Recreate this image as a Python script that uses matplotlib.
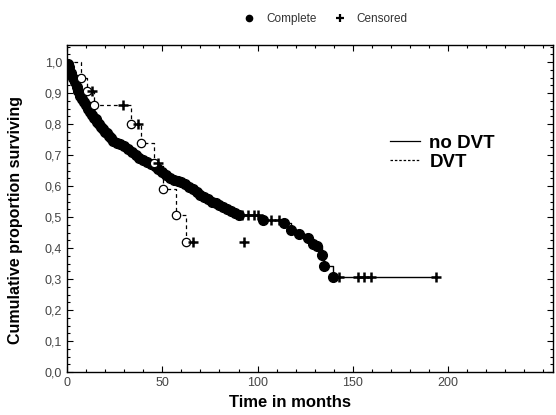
import numpy as np
import matplotlib
matplotlib.use("Agg")
import matplotlib.pyplot as plt
from matplotlib.lines import Line2D
from matplotlib.ticker import MultipleLocator

# no DVT group: event times (months) and survival after each event
nodvt_t = [0.5, 1, 2, 3, 4, 5, 6, 7, 8, 9, 10, 11, 12, 13, 14, 15, 16, 17, 18, 19,
           20, 21, 22, 23, 24, 26, 28, 30, 32, 34, 36, 38, 40, 42, 44, 46, 48, 50,
           52, 54, 56, 58, 60, 62, 64, 66, 68, 70, 72, 74, 76, 78, 80, 82, 84, 86,
           88, 90, 103, 114, 117.5, 121.5, 126.5, 129, 131, 134, 135, 139.5]
nodvt_s = [0.995, 0.985, 0.965, 0.95, 0.935, 0.92, 0.905, 0.89, 0.88, 0.87, 0.86,
           0.85, 0.84, 0.83, 0.82, 0.815, 0.805, 0.80, 0.79, 0.785, 0.775, 0.77,
           0.76, 0.755, 0.745, 0.74, 0.735, 0.73, 0.72, 0.71, 0.70, 0.69, 0.685,
           0.678, 0.67, 0.665, 0.655, 0.645, 0.635, 0.625, 0.62, 0.617, 0.612,
           0.605, 0.598, 0.59, 0.58, 0.572, 0.565, 0.558, 0.55, 0.545, 0.538,
           0.532, 0.525, 0.518, 0.513, 0.508, 0.49, 0.48, 0.458, 0.445, 0.432,
           0.412, 0.405, 0.378, 0.342, 0.306]
nodvt_cens_t = [92, 95, 98, 100, 107, 111, 142.5, 152.5, 156, 159.5, 193.5]
nodvt_cens_s = [0.508, 0.508, 0.508, 0.508, 0.49, 0.49, 0.306, 0.306, 0.306, 0.306, 0.306]

# DVT group
dvt_t = [7.3, 10.5, 14.2, 33.5, 38.8, 45.5, 50.4, 57, 62.5]
dvt_s = [0.95, 0.905, 0.86, 0.80, 0.74, 0.675, 0.59, 0.505, 0.42]
dvt_cens_t = [13, 29.4, 37, 48, 66, 93]
dvt_cens_s = [0.905, 0.86, 0.80, 0.675, 0.42, 0.42]

xticks = [0, 50, 100, 150, 200]
yticks = [0.0, 0.1, 0.2, 0.3, 0.4, 0.5, 0.6, 0.7, 0.8, 0.9, 1.0]
ytick_labels = ["0,0", "0,1", "0,2", "0,3", "0,4", "0,5", "0,6", "0,7", "0,8", "0,9", "1,0"]

plt.rcParams.update({"font.family": ["Liberation Sans", "DejaVu Sans"]})

fig = plt.figure(figsize=(5.56, 4.15), dpi=100)
ax = fig.add_axes([0.1205, 0.1036, 0.874, 0.788])

# no DVT: solid step line with filled dots
ax.step([0] + nodvt_t + [nodvt_cens_t[-1]], [1.0] + nodvt_s + [nodvt_s[-1]],
        where="post", color="black", lw=1.0)
ax.plot(nodvt_t, nodvt_s, "o", color="black", ms=7, mec="black")
ax.plot(nodvt_cens_t, nodvt_cens_s, "+", color="black", ms=6.5, mew=1.8)

# DVT: dashed step line with open circles
ax.step([0] + dvt_t + [dvt_cens_t[-2]], [1.0] + dvt_s + [dvt_s[-1]],
        where="post", color="black", lw=0.9, ls=(0, (3, 2.5)))
ax.plot(dvt_t, dvt_s, "o", mfc="white", mec="black", ms=6, mew=0.9)
ax.plot(dvt_cens_t, dvt_cens_s, "+", color="black", ms=6.5, mew=1.8)

ax.set_xlim(0, 255)
ax.set_ylim(0, 1.055)
ax.set_xticks(xticks)
ax.set_yticks(yticks)
ax.set_yticklabels(ytick_labels)
ax.xaxis.set_minor_locator(MultipleLocator(10))
ax.yaxis.set_minor_locator(MultipleLocator(0.025))
ax.tick_params(which="both", direction="in", top=True, right=True,
               labelsize=9, labelcolor="#444444", width=0.8)
ax.tick_params(which="major", length=4)
ax.tick_params(which="minor", length=2.5)
for s in ax.spines.values():
    s.set_linewidth(1.0)

ax.set_xlabel("Time in months", fontsize=12, fontweight="bold")
ax.xaxis.set_label_coords(0.459, -0.07)
ax.set_ylabel("Cumulative proportion surviving", fontsize=11.5, fontweight="bold")
ax.yaxis.set_label_coords(-0.09, 0.465)

# group legend
grp = [Line2D([], [], color="black", lw=0.9),
       Line2D([], [], color="black", lw=0.9, ls=(0, (2, 1.5)))]
ax.legend(grp, ["no DVT", "DVT"], loc="center left", bbox_to_anchor=(0.63, 0.67),
          frameon=False, handlelength=1.6, handletextpad=0.5, labelspacing=0.1,
          prop={"weight": "bold", "size": 13.5})

# marker legend at top
mk = [Line2D([], [], marker="o", color="black", ls="none", ms=4.5),
      Line2D([], [], marker="+", color="black", ls="none", ms=5.5, mew=1.6)]
fig.legend(mk, ["Complete", "Censored"], loc="center", bbox_to_anchor=(0.58, 0.955),
           ncol=2, frameon=False, fontsize=8.5, handletextpad=0.4, columnspacing=1.0,
           labelcolor="#333333")

fig.savefig("out.png", dpi=100)
